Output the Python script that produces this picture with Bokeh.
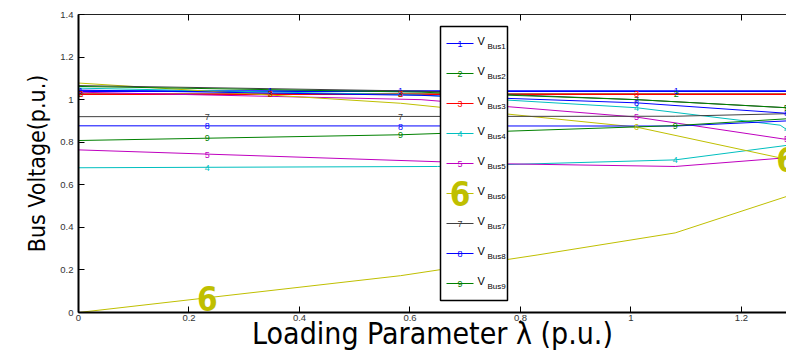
from bokeh.plotting import figure
from bokeh.models import Range1d, LinearAxis, FixedTicker, CustomJSTickFormatter
from bokeh.core.properties import value
from bokeh.embed import file_html
from bokeh.resources import INLINE

# ---------------- data ----------------
x_ticks = [0, 0.2, 0.4, 0.6, 0.8, 1.0, 1.2]
y_ticks = [0, 0.2, 0.4, 0.6, 0.8, 1.0, 1.2, 1.4]
lam_max_shown = 1.2815

bus_labels = ["1", "2", "3", "4", "5", "6", "7", "8", "9"]

# generator buses (flat)
bus1_x = [0.0, 1.2815]
bus1_v = [1.04, 1.04]
bus2_x = [0.0, 1.2815]
bus2_v = [1.025, 1.025]
bus3_x = [0.0, 1.2815]
bus3_v = [1.025, 1.025]

# load buses: upper branch
bus4_up_x = [0.0, 0.62, 1.01, 1.27, 1.2815]
bus4_up_v = [1.054, 1.022, 0.962, 0.88, 0.86]
bus5_up_x = [0.0, 0.62, 1.01, 1.2815]
bus5_up_v = [1.035, 1.0, 0.918, 0.813]
bus6_up_x = [0.0, 0.583, 1.01, 1.2815]
bus6_up_v = [1.078, 0.983, 0.871, 0.72]
bus7_up_x = [0.0, 0.62, 1.01, 1.2815]
bus7_up_v = [1.066, 1.04, 1.0, 0.962]
bus8_up_x = [0.0, 0.62, 1.01, 1.2815]
bus8_up_v = [1.045, 1.02, 0.985, 0.936]
bus9_up_x = [0.0, 0.62, 1.01, 1.2815]
bus9_up_v = [1.062, 1.035, 1.0, 0.962]

# load buses: lower branch
bus4_lo_x = [0.0, 0.65, 1.08, 1.2815]
bus4_lo_v = [0.68, 0.686, 0.717, 0.785]
bus5_lo_x = [0.0, 0.76, 1.08, 1.2815]
bus5_lo_v = [0.764, 0.699, 0.686, 0.727]
bus6_lo_x = [0.0, 0.583, 0.83, 1.08, 1.2815]
bus6_lo_v = [0.0, 0.173, 0.27, 0.374, 0.545]
bus7_lo_x = [0.0, 1.08, 1.2815]
bus7_lo_v = [0.92, 0.922, 0.934]
bus8_lo_x = [0.0, 1.08, 1.2815]
bus8_lo_v = [0.877, 0.876, 0.90]
bus9_lo_x = [0.0, 0.583, 1.08, 1.2815]
bus9_lo_v = [0.808, 0.835, 0.878, 0.91]

# digit markers
bus1_mk_x = [0.004, 0.347, 0.583, 1.082]
bus1_mk_v = [1.04, 1.04, 1.04, 1.04]
bus2_mk_x = [0.004, 0.347, 0.583, 1.082]
bus2_mk_v = [1.025, 1.025, 1.025, 1.025]
bus3_mk_x = [0.004, 0.347, 0.583, 1.01]
bus3_mk_v = [1.025, 1.025, 1.025, 1.025]
bus4_mk_x = [1.01, 1.2815, 0.233, 1.08]
bus4_mk_v = [0.962, 0.86, 0.68, 0.717]
bus5_mk_x = [1.01, 1.2815, 0.233]
bus5_mk_v = [0.918, 0.813, 0.742]
bus6_mk_x = [1.01]
bus6_mk_v = [0.871]
bus6_big_x = [1.2815, 0.233]
bus6_big_v = [0.72, 0.066]
bus7_mk_x = [1.01, 1.2815, 0.233, 0.583]
bus7_mk_v = [1.0, 0.962, 0.92, 0.92]
bus8_mk_x = [1.01, 1.2815, 0.233, 0.583]
bus8_mk_v = [0.985, 0.936, 0.877, 0.873]
bus9_mk_x = [1.2815, 0.233, 0.583, 1.08]
bus9_mk_v = [0.962, 0.818, 0.835, 0.878]

# ---------------- styles ----------------
colors = ["#0000ff", "#008000", "#ff0000", "#00bfbf", "#bf00bf",
          "#bfbf00", "#404040", "#0000ff", "#008000"]
cond_font = "DejaVu Sans Condensed, Liberation Sans Narrow, Roboto Condensed, DejaVu Sans"
tick_font = "Liberation Sans"

series = [
    ([(bus1_x, bus1_v)], (bus1_mk_x, bus1_mk_v), 1.6),
    ([(bus2_x, bus2_v)], (bus2_mk_x, bus2_mk_v), 1.6),
    ([(bus3_x, bus3_v)], (bus3_mk_x, bus3_mk_v), 1.6),
    ([(bus4_up_x, bus4_up_v), (bus4_lo_x, bus4_lo_v)], (bus4_mk_x, bus4_mk_v), 1.0),
    ([(bus5_up_x, bus5_up_v), (bus5_lo_x, bus5_lo_v)], (bus5_mk_x, bus5_mk_v), 1.0),
    ([(bus6_up_x, bus6_up_v), (bus6_lo_x, bus6_lo_v)], (bus6_mk_x, bus6_mk_v), 1.0),
    ([(bus7_up_x, bus7_up_v), (bus7_lo_x, bus7_lo_v)], (bus7_mk_x, bus7_mk_v), 1.0),
    ([(bus8_up_x, bus8_up_v), (bus8_lo_x, bus8_lo_v)], (bus8_mk_x, bus8_mk_v), 1.0),
    ([(bus9_up_x, bus9_up_v), (bus9_lo_x, bus9_lo_v)], (bus9_mk_x, bus9_mk_v), 1.0),
]

FRAME_W, FRAME_H = 708, 298

p = figure(width=786, height=356, x_range=Range1d(0, lam_max_shown), y_range=Range1d(0, 1.4),
           output_backend="svg", toolbar_location=None,
           min_border_left=78, min_border_right=0, min_border_top=14, min_border_bottom=44)
p.outline_line_color = None
p.xgrid.visible = False
p.ygrid.visible = False
p.background_fill_color = "white"
p.border_fill_color = "white"

fmt = CustomJSTickFormatter(code="return String(Number(tick.toFixed(2)));")
for ax, ticks in ((p.xaxis[0], x_ticks), (p.yaxis[0], y_ticks)):
    ax.ticker = FixedTicker(ticks=ticks)
    ax.formatter = fmt
    ax.axis_line_color = "black"
    ax.axis_line_width = 2
    ax.major_tick_in = 6
    ax.major_tick_out = 0
    ax.major_tick_line_color = "black"
    ax.minor_tick_line_color = None
    ax.major_label_text_font = tick_font
    ax.major_label_text_font_size = "9.5px"
    ax.major_label_text_color = "#333333"
p.xaxis[0].major_label_standoff = 2
p.yaxis[0].major_label_standoff = 5

p.yaxis[0].axis_label = "Bus Voltage(p.u.)"
p.yaxis[0].axis_label_text_font = cond_font
p.yaxis[0].axis_label_text_font_size = "23px"
p.yaxis[0].axis_label_text_font_style = "normal"
p.yaxis[0].axis_label_text_color = "black"
p.yaxis[0].axis_label_standoff = 7

p.xaxis[0].axis_label = "Loading Parameter λ (p.u.)"
p.xaxis[0].axis_label_text_font = cond_font
p.xaxis[0].axis_label_text_font_size = "30px"
p.xaxis[0].axis_label_text_font_style = "normal"
p.xaxis[0].axis_label_text_color = "black"
p.xaxis[0].axis_label_standoff = -8

top_ax = LinearAxis(ticker=FixedTicker(ticks=x_ticks),
                    formatter=CustomJSTickFormatter(code="return '';"),
                    major_label_text_font_size="1px",
                    major_label_standoff=0, major_tick_in=6, major_tick_out=0,
                    axis_line_color="#222222", axis_line_width=1.2, minor_tick_line_color=None)
p.add_layout(top_ax, "above")

# curves
for (parts, mk, lw), col in zip(series, colors):
    for xs, vs in parts:
        p.line(xs, vs, line_color=col, line_width=lw)
for (parts, mk, lw), col, lab in zip(series, colors, bus_labels):
    p.text(mk[0], mk[1], text=[lab] * len(mk[0]), text_color=col, text_font=value(tick_font),
           text_font_size="9px", text_align="center", text_baseline="middle")
p.text(bus6_big_x, bus6_big_v, text=["6"] * len(bus6_big_x), text_color=colors[5],
       text_font=value(cond_font), text_font_size="33px", text_font_style="bold",
       text_align="center", text_baseline="middle")

# legend drawn in frame pixel space
p.extra_x_ranges["px"] = Range1d(0, FRAME_W)
p.extra_y_ranges["py"] = Range1d(FRAME_H, 0)
leg_l, leg_r, leg_t, leg_b = 362, 429, 12, 286
row0, row_step = 29, 30
p.quad(left=[leg_l], right=[leg_r], top=[leg_t], bottom=[leg_b], fill_color="white",
       line_color="black", line_width=1.5, x_range_name="px", y_range_name="py")
for i, (col, lab) in enumerate(zip(colors, bus_labels)):
    yy = row0 + i * row_step
    p.segment(x0=[368], y0=[yy], x1=[395], y1=[yy], line_color=col, line_width=1,
              x_range_name="px", y_range_name="py")
    big = lab == "6"
    p.text([381.5], [yy], text=[lab], text_color=col,
           text_font=value(cond_font if big else tick_font),
           text_font_size="33px" if big else "9px", text_font_style="bold" if big else "normal",
           text_align="center", text_baseline="middle", x_range_name="px", y_range_name="py")
    p.text([399], [yy - 2.5], text=["V"], text_color="black", text_font=value(tick_font),
           text_font_size="11px", text_align="left", text_baseline="middle",
           x_range_name="px", y_range_name="py")
    p.text([409], [yy + 3], text=["Bus" + lab], text_color="black", text_font=value(tick_font),
           text_font_size="8px", text_align="left", text_baseline="middle",
           x_range_name="px", y_range_name="py")

open("out.html", "w").write(file_html(p, INLINE))
